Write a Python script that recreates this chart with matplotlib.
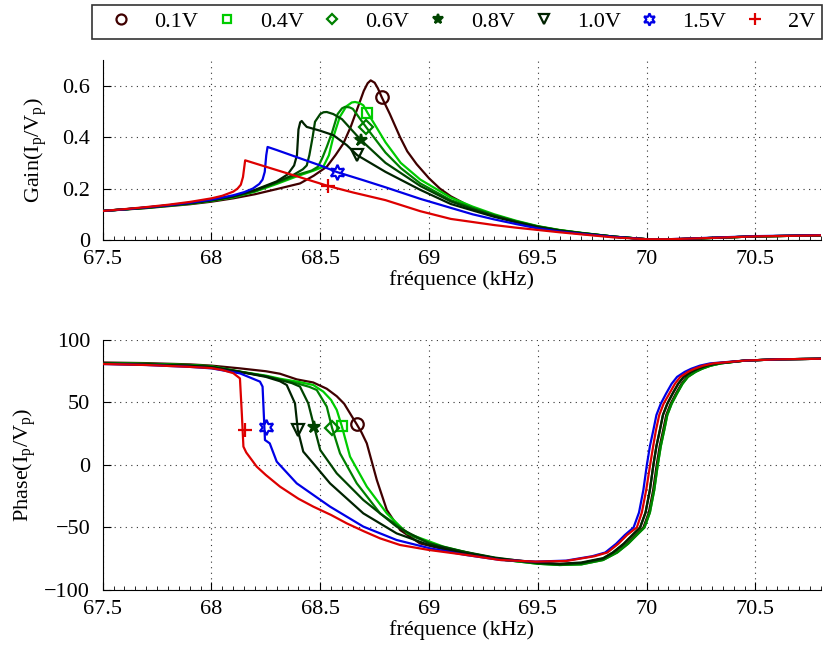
import matplotlib
matplotlib.use("Agg")
import matplotlib.pyplot as plt
from matplotlib.lines import Line2D
import numpy as np

plt.rcParams['font.family'] = ['Liberation Serif', 'DejaVu Serif']
plt.rcParams['mathtext.fontset'] = 'custom'
plt.rcParams['mathtext.rm'] = 'Liberation Serif'
plt.rcParams['mathtext.it'] = 'Liberation Serif:italic'

labels = ['0.1V', '0.4V', '0.6V', '0.8V', '1.0V', '1.5V', '2V']
colors = ['#3f0000', '#00cc00', '#008000', '#004400', '#002200', '#0000e6', '#dd0000']
markers = ['o', 's', 'D', '*', 'v', (6, 1, 0), '+']
msizes = [9, 7.5, 7, 9, 9, 11, 10]

# ---- gain (top) ----
g01_x = [67.5, 67.7, 67.9, 68.0, 68.1, 68.2, 68.3, 68.407, 68.47, 68.53, 68.57, 68.606, 68.64, 68.668, 68.7, 68.718,
         68.732, 68.75, 68.765, 68.783, 68.82, 68.867, 68.9, 68.943, 69.0, 69.05, 69.1, 69.2, 69.3, 69.4, 69.5, 69.6,
         69.7, 69.85, 70.0, 70.1, 70.3, 70.5, 70.8]
g01_y = [0.113, 0.124, 0.139, 0.149, 0.162, 0.178, 0.198, 0.22, 0.25, 0.285, 0.33, 0.375, 0.44, 0.505, 0.58, 0.61,
         0.621, 0.612, 0.59, 0.555, 0.49, 0.40, 0.345, 0.295, 0.24, 0.2, 0.17, 0.125, 0.095, 0.07, 0.052, 0.038,
         0.027, 0.013, 0.003, 0.002, 0.008, 0.014, 0.018]
g04_x = [67.5, 67.7, 67.9, 68.0, 68.1, 68.2, 68.3, 68.4, 68.47, 68.514, 68.54, 68.56, 68.59, 68.62, 68.645, 68.66,
         68.68, 68.698, 68.718, 68.75, 68.8, 68.87, 68.96, 69.1, 69.2, 69.3, 69.4, 69.5, 69.6, 69.7, 69.85, 70.0,
         70.1, 70.3, 70.5, 70.8]
g04_y = [0.113, 0.125, 0.141, 0.152, 0.166, 0.188, 0.218, 0.25, 0.27, 0.285, 0.33, 0.40, 0.479, 0.52, 0.535, 0.537,
         0.533, 0.524, 0.494, 0.45, 0.38, 0.3, 0.235, 0.165, 0.13, 0.1, 0.075, 0.054, 0.039, 0.028, 0.013, 0.003,
         0.002, 0.008, 0.014, 0.018]
g06_x = [67.5, 67.7, 67.9, 68.0, 68.1, 68.2, 68.3, 68.4, 68.46, 68.49, 68.51, 68.53, 68.555, 68.58, 68.6, 68.614,
         68.635, 68.65, 68.71, 68.8, 68.87, 68.96, 69.1, 69.2, 69.3, 69.4, 69.5, 69.6, 69.7, 69.85, 70.0, 70.1, 70.3,
         70.5, 70.8]
g06_y = [0.113, 0.125, 0.142, 0.153, 0.168, 0.19, 0.222, 0.255, 0.27, 0.285, 0.32, 0.362, 0.42, 0.49, 0.512, 0.518,
         0.516, 0.51, 0.44, 0.34, 0.28, 0.22, 0.155, 0.125, 0.097, 0.073, 0.053, 0.038, 0.027, 0.013, 0.003, 0.002,
         0.008, 0.014, 0.018]
g08_x = [67.5, 67.7, 67.9, 68.0, 68.1, 68.2, 68.3, 68.38, 68.42, 68.438, 68.45, 68.465, 68.476, 68.5, 68.515, 68.53,
         68.56, 68.6, 68.688, 68.8, 68.96, 69.1, 69.2, 69.3, 69.4, 69.5, 69.6, 69.7, 69.85, 70.0, 70.1, 70.3, 70.5,
         70.8]
g08_y = [0.113, 0.126, 0.143, 0.154, 0.169, 0.192, 0.225, 0.255, 0.275, 0.29, 0.33, 0.40, 0.46, 0.49, 0.497, 0.498,
         0.49, 0.47, 0.388, 0.3, 0.21, 0.15, 0.12, 0.094, 0.071, 0.052, 0.037, 0.027, 0.013, 0.003, 0.002, 0.008,
         0.014, 0.018]
g10_x = [67.5, 67.7, 67.9, 68.0, 68.1, 68.2, 68.3, 68.35, 68.38, 68.393, 68.4, 68.408, 68.415, 68.425, 68.438, 68.5,
         68.56, 68.622, 68.67, 68.8, 68.96, 69.1, 69.2, 69.3, 69.4, 69.5, 69.6, 69.7, 69.85, 70.0, 70.1, 70.3, 70.5,
         70.8]
g10_y = [0.113, 0.126, 0.143, 0.155, 0.17, 0.195, 0.228, 0.255, 0.29, 0.33, 0.43, 0.458, 0.463, 0.452, 0.44, 0.425,
         0.408, 0.369, 0.33, 0.265, 0.195, 0.14, 0.115, 0.09, 0.069, 0.05, 0.036, 0.026, 0.013, 0.003, 0.002, 0.008,
         0.014, 0.018]
g15_x = [67.5, 67.6, 67.7, 67.8, 67.9, 68.0, 68.1, 68.15, 68.19, 68.22, 68.235, 68.245, 68.252, 68.258, 68.3, 68.4,
         68.5, 68.578, 68.7, 68.8, 68.96, 69.1, 69.2, 69.3, 69.4, 69.5, 69.6, 69.7, 69.85, 70.0, 70.1, 70.3, 70.5,
         70.8]
g15_y = [0.113, 0.119, 0.127, 0.135, 0.145, 0.157, 0.174, 0.186, 0.2, 0.218, 0.235, 0.265, 0.33, 0.362, 0.35, 0.32,
         0.29, 0.264, 0.232, 0.205, 0.16, 0.125, 0.1, 0.08, 0.062, 0.045, 0.033, 0.024, 0.012, 0.003, 0.003, 0.009,
         0.015, 0.019]
g2_x = [67.5, 67.6, 67.7, 67.8, 67.9, 68.0, 68.05, 68.1, 68.12, 68.135, 68.145, 68.155, 68.3, 68.4, 68.537, 68.65,
        68.8, 68.96, 69.1, 69.2, 69.3, 69.4, 69.5, 69.6, 69.7, 69.85, 70.0, 70.1, 70.3, 70.5, 70.8]
g2_y = [0.113, 0.12, 0.128, 0.137, 0.148, 0.162, 0.172, 0.188, 0.2, 0.215, 0.245, 0.31, 0.272, 0.246, 0.21, 0.185,
        0.155, 0.112, 0.082, 0.07, 0.058, 0.048, 0.039, 0.03, 0.022, 0.01, 0.003, 0.003, 0.008, 0.014, 0.018]

gain_mk_x = [68.785, 68.716, 68.71, 68.688, 68.67, 68.578, 68.537]
gain_mk_y = [0.555, 0.493, 0.44, 0.388, 0.33, 0.264, 0.21]

# ---- phase (bottom) ----
p01_x = [67.5, 67.7, 67.9, 68.0, 68.131, 68.25, 68.315, 68.392, 68.468, 68.53, 68.576, 68.61, 68.637, 68.668, 68.69,
         68.714, 68.76, 68.806, 68.867, 68.958, 69.08, 69.2, 69.35, 69.5, 69.6, 69.7, 69.8, 69.86, 69.91, 69.95,
         69.985, 70.01, 70.03, 70.046, 70.06, 70.076, 70.09, 70.11, 70.134, 70.16, 70.185, 70.22, 70.25, 70.29,
         70.337, 70.45, 70.6, 70.8]
p01_y = [82, 81.5, 80.5, 79.5, 77.3, 75, 73, 68.5, 66, 61, 55, 49, 41.3, 32.5, 26, 17.3, -12, -36, -52, -62.7, -68,
         -72, -76, -78.5, -79.5, -78.5, -75, -70, -63, -56, -50, -38, -20, 0, 15, 28, 40, 49, 57, 65, 70.5, 74.5,
         77, 79.5, 81.3, 83.5, 84.5, 85]
p04_x = [67.5, 67.7, 67.9, 68.0, 68.131, 68.25, 68.315, 68.4, 68.468, 68.514, 68.55, 68.576, 68.599, 68.637, 68.714,
         68.806, 68.9, 69.066, 69.2, 69.35, 69.5, 69.6, 69.7, 69.8, 69.865, 69.915, 69.955, 69.99, 70.015, 70.035,
         70.051, 70.065, 70.081, 70.095, 70.115, 70.139, 70.165, 70.19, 70.225, 70.255, 70.295, 70.342, 70.45,
         70.6, 70.8]
p04_y = [81.5, 81, 80, 79, 74.7, 71.5, 69, 66.5, 64, 58.7, 52, 44, 31.2, 6.7, -17.3, -38.7, -54.7, -65.3, -71, -76,
         -79, -80, -79.5, -76, -70, -63, -56, -50, -38, -20, 0, 15, 28, 40, 49, 57, 65, 70.5, 74.5, 77, 79.5, 81.3,
         83.5, 84.5, 85]
p06_x = [67.5, 67.7, 67.9, 68.0, 68.131, 68.25, 68.315, 68.4, 68.45, 68.484, 68.53, 68.554, 68.591, 68.668, 68.775,
         68.928, 69.05, 69.2, 69.35, 69.5, 69.6, 69.7, 69.8, 69.865, 69.915, 69.955, 69.99, 70.015, 70.035, 70.051,
         70.065, 70.081, 70.095, 70.115, 70.139, 70.165, 70.19, 70.225, 70.255, 70.295, 70.342, 70.45, 70.6, 70.8]
p06_y = [81.5, 80.8, 79.8, 78.8, 74.7, 71, 68.5, 65, 62.5, 60, 46.7, 29.9, 9.3, -14.7, -38.7, -57.3, -65.3, -71,
         -76, -79, -80, -79.5, -76, -70, -63, -56, -50, -38, -20, 0, 15, 28, 40, 49, 57, 65, 70.5, 74.5, 77, 79.5,
         81.3, 83.5, 84.5, 85]
p08_x = [67.5, 67.7, 67.9, 68.0, 68.131, 68.25, 68.315, 68.37, 68.407, 68.445, 68.473, 68.5, 68.576, 68.698, 68.851,
         69.0, 69.15, 69.3, 69.5, 69.6, 69.7, 69.8, 69.845, 69.895, 69.935, 69.97, 69.995, 70.015, 70.031, 70.045,
         70.061, 70.075, 70.095, 70.119, 70.145, 70.17, 70.205, 70.235, 70.275, 70.322, 70.45, 70.6, 70.8]
p08_y = [81.3, 80.5, 79.5, 78.5, 74.5, 71, 68, 65.5, 62.7, 49.3, 30, 12, -6.7, -28, -49.3, -62.7, -69, -74, -78.5,
         -79.5, -78.5, -75, -70, -63, -56, -50, -38, -20, 0, 15, 28, 40, 49, 57, 65, 70.5, 74.5, 77, 79.5, 81.3,
         83.5, 84.5, 85]
p10_x = [67.5, 67.7, 67.9, 68.0, 68.131, 68.25, 68.315, 68.346, 68.384, 68.397, 68.422, 68.468, 68.545, 68.698,
         68.851, 69.0, 69.15, 69.3, 69.5, 69.6, 69.7, 69.8, 69.845, 69.895, 69.935, 69.97, 69.995, 70.015, 70.031,
         70.045, 70.061, 70.075, 70.095, 70.119, 70.145, 70.17, 70.205, 70.235, 70.275, 70.322, 70.45, 70.6, 70.8]
p10_y = [81, 80.3, 79.3, 78.3, 74.5, 70.5, 67, 64, 49.3, 28, 10.7, 1.3, -14.7, -38.7, -54.7, -64, -70, -74.5, -78,
         -79, -78, -74.5, -70, -63, -56, -50, -38, -20, 0, 15, 28, 40, 49, 57, 65, 70.5, 74.5, 77, 79.5, 81.3, 83.5,
         84.5, 85]
p15_x = [67.5, 67.7, 67.9, 68.0, 68.131, 68.223, 68.235, 68.246, 68.268, 68.3, 68.392, 68.545, 68.698, 68.851,
         69.005, 69.17, 69.33, 69.49, 69.63, 69.75, 69.81, 69.86, 69.9, 69.94, 69.965, 69.985, 70.001, 70.015,
         70.031, 70.045, 70.065, 70.089, 70.115, 70.14, 70.175, 70.205, 70.245, 70.292, 70.45, 70.6, 70.8]
p15_y = [80.8, 80, 78.5, 77.3, 73.3, 66.7, 62.7, 20, 17.3, 2.7, -14.7, -33.3, -49.3, -60, -66.7, -72, -76, -77.3,
         -76.5, -73, -70, -63, -56, -50, -38, -20, 0, 15, 28, 40, 49, 57, 65, 70.5, 74.5, 77, 79.5, 81.3, 83.5, 84.5,
         85]
p2_x = [67.5, 67.7, 67.9, 68.0, 68.05, 68.1, 68.131, 68.14, 68.147, 68.16, 68.208, 68.25, 68.315, 68.4, 68.468,
        68.55, 68.622, 68.7, 68.775, 68.867, 69.0, 69.173, 69.326, 69.49, 69.63, 69.76, 69.82, 69.87, 69.91, 69.955,
        69.978, 69.998, 70.016, 70.03, 70.043, 70.058, 70.078, 70.104, 70.13, 70.155, 70.19, 70.22, 70.26, 70.307,
        70.45, 70.6, 70.8]
p2_y = [80.8, 80, 78.5, 77.5, 76, 73.5, 69.3, 40, 14.7, 10, -1.3, -8, -17.3, -27, -33.3, -40, -46.7, -53, -58.7,
        -64, -68, -72, -76, -77.3, -76.8, -73, -70, -63, -56, -50, -38, -20, 0, 15, 28, 40, 49, 57, 65, 70.5, 74.5,
        77, 79.5, 81.3, 83.5, 84.5, 85]

phase_mk_x = [68.668, 68.599, 68.554, 68.473, 68.397, 68.25, 68.154]
phase_mk_y = [32.5, 31.2, 29.9, 30, 28, 30.4, 27.8]

gain_curves = [(g01_x, g01_y), (g04_x, g04_y), (g06_x, g06_y), (g08_x, g08_y),
               (g10_x, g10_y), (g15_x, g15_y), (g2_x, g2_y)]
phase_curves = [(p01_x, p01_y), (p04_x, p04_y), (p06_x, p06_y), (p08_x, p08_y),
                (p10_x, p10_y), (p15_x, p15_y), (p2_x, p2_y)]

xticks = [67.5, 68, 68.5, 69, 69.5, 70, 70.5]
xticklabels = ['67.5', '68', '68.5', '69', '69.5', '70', '70.5']


def style_axes(ax):
    ax.spines['top'].set_visible(False)
    ax.spines['right'].set_visible(False)
    ax.set_xlim(67.5, 70.8)
    ax.set_xticks(xticks)
    ax.set_xticklabels(xticklabels)
    ax.set_xticks(np.arange(67.5, 70.81, 0.05), minor=True)
    ax.tick_params(which='major', direction='in', length=6, labelsize=16)
    ax.tick_params(axis='x', which='major', pad=7)
    ax.tick_params(axis='y', which='major', pad=9)
    ax.tick_params(which='minor', direction='in', length=3)
    ax.tick_params(axis='y', which='minor', left=False)
    ax.grid(True, which='major', color='#333333', ls=(0, (1, 4)), lw=0.8)
    ax.set_xlabel('fréquence (kHz)', fontsize=16, labelpad=1)


def draw(ax, curves, mk_x, mk_y):
    for i, (x, y) in enumerate(curves):
        ax.plot(x, y, color=colors[i], lw=1.6, zorder=3)
    for i in range(len(curves)):
        filled = markers[i] in ('*', '+')
        ax.plot(mk_x[i], mk_y[i], ls='none', marker=markers[i], ms=msizes[i],
                mec=colors[i], mfc=colors[i] if filled else 'none', mew=1.6, zorder=4)


fig = plt.figure(figsize=(8.25, 6.46), dpi=100)
ax1 = fig.add_axes([0.1244, 0.6285, 0.8704, 0.2785])
ax2 = fig.add_axes([0.1244, 0.0867, 0.8704, 0.387])

draw(ax1, gain_curves, gain_mk_x, gain_mk_y)
style_axes(ax1)
ax1.set_ylim(0, 0.7)
ax1.set_yticks([0, 0.2, 0.4, 0.6])
ax1.set_yticklabels(['0', '0.2', '0.4', '0.6'])
ax1.set_ylabel('Gain(I$_\\mathrm{p}$/V$_\\mathrm{p}$)', fontsize=16)
ax1.yaxis.set_label_coords(-0.075, 0.5)

draw(ax2, phase_curves, phase_mk_x, phase_mk_y)
style_axes(ax2)
ax2.set_ylim(-100, 100)
ax2.set_yticks([-100, -50, 0, 50, 100])
ax2.set_ylabel('Phase(I$_\\mathrm{p}$/V$_\\mathrm{p}$)', fontsize=16)
ax2.yaxis.set_label_coords(-0.09, 0.5)

handles = []
for i in range(len(labels)):
    filled = markers[i] in ('*', '+')
    handles.append(Line2D([], [], ls='none', marker=markers[i], ms=msizes[i] * 0.8, mec=colors[i],
                          mfc=colors[i] if filled else 'none', mew=1.6, label=labels[i]))
leg = fig.legend(handles=handles, loc='center', ncol=7, fontsize=16,
                 bbox_to_anchor=(0.1115, 0.935, 0.885, 0.062), mode='expand',
                 frameon=True, fancybox=False, edgecolor='black', borderaxespad=0,
                 handletextpad=0.5, columnspacing=0.8, borderpad=0.3)
leg.get_frame().set_linewidth(1.2)

fig.savefig('out.png', dpi=100)
